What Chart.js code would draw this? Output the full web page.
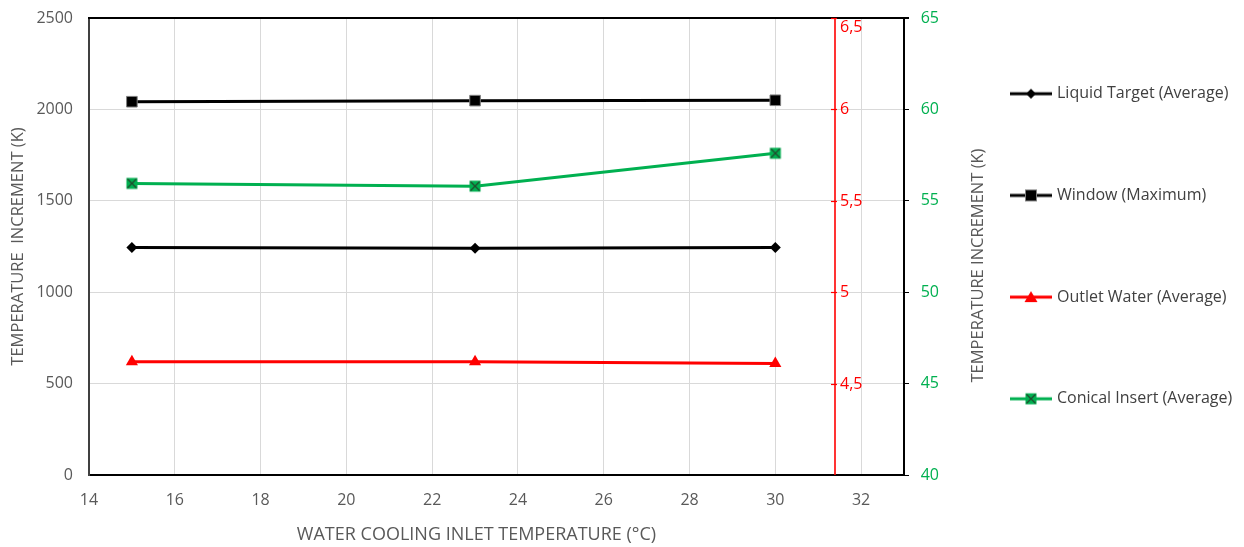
<!DOCTYPE html>
<html>
<head>
<meta charset="utf-8">
<script src="https://cdn.jsdelivr.net/npm/chart.js@4.4.1/dist/chart.umd.min.js"></script>
<style>
  html, body { margin: 0; padding: 0; background: #ffffff; }
  #wrap { width: 1244px; height: 547px; }
</style>
</head>
<body>
<div id="wrap"><canvas id="chart" width="1244" height="547"></canvas></div>
<script>
// Inlet temperature of the cooling water (°C)
const inletTemps = [15, 23, 30];

// Temperature increments (K)
const liquidTarget  = [1245, 1240, 1245];   // left axis
const windowMax     = [2042, 2048, 2050];   // left axis
const outletWater   = [4.62, 4.62, 4.61];   // red inner axis
const conicalInsert = [55.95, 55.8, 57.6];  // green right axis

// Tick labels
const xTicks     = [14, 16, 18, 20, 22, 24, 26, 28, 30, 32];
const leftTicks  = [0, 500, 1000, 1500, 2000, 2500];
const redTicks   = [4.5, 5, 5.5, 6, 6.5];
const greenTicks = [40, 45, 50, 55, 60, 65];

const FONT = "'Open Sans', 'Noto Sans', sans-serif";
const GREY_TEXT = '#595959';
const DARK_TEXT = '#404040';
const RED = '#ff0000';
const GREEN = '#00b050';
const RED_AXIS_AT = 31.40;       // x value where the red axis is drawn
const X_TITLE = 'WATER COOLING INLET TEMPERATURE (°C)';
const RIGHT_TITLE = 'TEMPERATURE INCREMENT (K)';

// ---- marker images -------------------------------------------------------
function drawMarker(c, kind, color, cx, cy) {
  c.save();
  if (kind === 'diamond') {
    c.fillStyle = color;
    c.beginPath();
    c.moveTo(cx, cy - 5); c.lineTo(cx + 5, cy); c.lineTo(cx, cy + 5); c.lineTo(cx - 5, cy);
    c.closePath(); c.fill();
  } else if (kind === 'square') {
    c.fillStyle = '#000';
    c.fillRect(cx - 5, cy - 5, 10, 10);
    c.strokeStyle = '#7f7f7f'; c.lineWidth = 1;
    c.strokeRect(cx - 5.5, cy - 5.5, 11, 11);
  } else if (kind === 'triangle') {
    c.fillStyle = color;
    c.beginPath();
    c.moveTo(cx, cy - 6); c.lineTo(cx + 6.5, cy + 5); c.lineTo(cx - 6.5, cy + 5);
    c.closePath(); c.fill();
  } else if (kind === 'xbox') {
    c.fillStyle = color;
    c.fillRect(cx - 5.5, cy - 5.5, 11, 11);
    c.strokeStyle = '#1f4d2e'; c.lineWidth = 1.4;
    c.beginPath();
    c.moveTo(cx - 4.5, cy - 4.5); c.lineTo(cx + 4.5, cy + 4.5);
    c.moveTo(cx + 4.5, cy - 4.5); c.lineTo(cx - 4.5, cy + 4.5);
    c.stroke();
  }
  c.restore();
}

function markerCanvas(kind, color) {
  const cv = document.createElement('canvas');
  cv.width = 14; cv.height = 14;
  drawMarker(cv.getContext('2d'), kind, color, 7, 7);
  return cv;
}

function legendSample(kind, color) {
  const cv = document.createElement('canvas');
  cv.width = 42; cv.height = 14;
  const c = cv.getContext('2d');
  c.strokeStyle = color; c.lineWidth = 3;
  c.beginPath(); c.moveTo(0, 7); c.lineTo(42, 7); c.stroke();
  drawMarker(c, kind, color, 21, 7);
  return cv;
}

const conicalMarker = markerCanvas('xbox', GREEN);

const series = [
  { label: 'Liquid Target (Average)', values: liquidTarget, axis: 'y',  color: '#000000', kind: 'diamond' },
  { label: 'Window (Maximum)',        values: windowMax,    axis: 'y',  color: '#000000', kind: 'square' },
  { label: 'Outlet Water (Average)',  values: outletWater,  axis: 'yR', color: RED,       kind: 'triangle' },
  { label: 'Conical Insert (Average)',values: conicalInsert,axis: 'yG', color: GREEN,     kind: 'xbox' }
];

const pointStyles = {
  diamond:  { pointStyle: 'rectRot', pointRadius: 5.5, pointBorderWidth: 0 },
  square:   { pointStyle: 'rect', pointRadius: 7.5, pointBorderWidth: 1, pointBorderColor: '#7f7f7f' },
  triangle: { pointStyle: 'triangle', pointRadius: 7, pointBorderWidth: 0 },
  xbox:     { pointStyle: conicalMarker, pointRadius: 6 }
};

const datasets = series.map(s => Object.assign({
  label: s.label,
  data: inletTemps.map((x, i) => ({ x: x, y: s.values[i] })),
  yAxisID: s.axis,
  borderColor: s.color,
  backgroundColor: s.color,
  pointBackgroundColor: s.color,
  pointBorderColor: s.color,
  borderWidth: 3,
  tension: 0,
  fill: false
}, pointStyles[s.kind]));

// ---- extra drawing: top frame line, inner red axis, titles ---------------
const framePlugin = {
  id: 'frameExtras',
  beforeDatasetsDraw(chart) {
    const { ctx, chartArea, scales } = chart;
    ctx.save();
    // top frame line
    ctx.strokeStyle = '#000'; ctx.lineWidth = 2;
    ctx.beginPath();
    ctx.moveTo(chartArea.left - 1, chartArea.top);
    ctx.lineTo(chartArea.right + 5, chartArea.top);
    ctx.stroke();

    // red axis placed inside the plot
    const ax = Math.round(scales.x.getPixelForValue(RED_AXIS_AT));
    ctx.strokeStyle = RED; ctx.lineWidth = 1.6;
    ctx.beginPath();
    ctx.moveTo(ax, chartArea.top);
    ctx.lineTo(ax, chartArea.bottom);
    ctx.stroke();
    ctx.lineWidth = 1.2;
    ctx.fillStyle = RED;
    ctx.font = "16px " + FONT;
    ctx.textBaseline = 'middle';
    ctx.textAlign = 'left';
    redTicks.forEach(v => {
      const y = Math.round(scales.yR.getPixelForValue(v)) + 0.5;
      ctx.beginPath();
      ctx.moveTo(ax - 4, y); ctx.lineTo(ax + 2, y);
      ctx.stroke();
      const txt = String(v).replace('.', ',');
      const ty = Math.max(y, chartArea.top + 9);
      ctx.fillText(txt, ax + 5, ty);
    });
    ctx.restore();
  },
  afterDraw(chart) {
    const { ctx, chartArea } = chart;
    ctx.save();
    ctx.fillStyle = GREY_TEXT;
    ctx.textAlign = 'center';
    ctx.textBaseline = 'middle';
    // x-axis title
    ctx.font = "18px " + FONT;
    ctx.fillText(X_TITLE, (chartArea.left + chartArea.right) / 2 - 20, chartArea.bottom + 60);
    // right-hand axis title, reading upwards
    ctx.font = "16.5px " + FONT;
    ctx.translate(chartArea.right + 74, (chartArea.top + chartArea.bottom) / 2 + 19);
    ctx.rotate(-Math.PI / 2);
    ctx.fillText(RIGHT_TITLE, 0, 0);
    ctx.restore();
  }
};

const setTicks = list => scale => { scale.ticks = list.map(v => ({ value: v })); };
const plainLabel = v => String(v);

new Chart(document.getElementById('chart'), {
  type: 'line',
  data: { datasets: datasets },
  options: {
    responsive: false,
    animation: false,
    events: [],
    layout: { padding: { top: 0, right: 2.7, bottom: 0, left: 0 } },
    scales: {
      x: {
        type: 'linear',
        min: 14, max: 33,
        afterBuildTicks: setTicks(xTicks),
        afterFit: s => { s.height = 72; },
        grid: { color: '#d9d9d9', lineWidth: 1, drawTicks: false },
        border: { color: '#000', width: 2 },
        ticks: { color: GREY_TEXT, font: { family: FONT, size: 16 }, padding: 16, maxRotation: 0, autoSkip: false, callback: plainLabel }
      },
      y: {
        type: 'linear',
        position: 'left',
        min: 0, max: 2500,
        afterBuildTicks: setTicks(leftTicks),
        afterFit: s => { s.width = 89; s.paddingTop = 18; s.paddingBottom = 0; },
        grid: { color: '#d9d9d9', lineWidth: 1, drawTicks: false },
        border: { color: '#404040', width: 2 },
        ticks: { color: GREY_TEXT, font: { family: FONT, size: 16 }, padding: 16, callback: plainLabel },
        title: { display: true, text: 'TEMPERATURE  INCREMENT (K)', color: GREY_TEXT,
                 font: { family: FONT, size: 16.5 }, padding: { top: 8, bottom: 0 } }
      },
      yG: {
        type: 'linear',
        position: 'right',
        min: 40, max: 65,
        afterBuildTicks: setTicks(greenTicks),
        afterFit: s => { s.width = 23.3; s.paddingTop = 18; s.paddingBottom = 0; },
        grid: { drawOnChartArea: false, drawTicks: true, tickLength: 5, color: '#000' },
        border: { color: '#000', width: 2 },
        ticks: { color: GREEN, font: { family: FONT, size: 16 }, mirror: true, crossAlign: 'near', padding: 35, callback: plainLabel }
      },
      yR: {
        type: 'linear',
        display: false,
        min: 4, max: 6.5
      }
    },
    plugins: {
      tooltip: { enabled: false },
      legend: {
        position: 'right',
        align: 'start',
        maxWidth: 314,
        labels: {
          usePointStyle: true,
          pointStyleWidth: 36,
          padding: 85.7,
          color: DARK_TEXT,
          font: { family: FONT, size: 16 },
          generateLabels: chart => series.map((s, i) => ({
            text: s.label,
            datasetIndex: i,
            hidden: false,
            fillStyle: s.color,
            strokeStyle: s.color,
            lineWidth: 0,
            fontColor: DARK_TEXT,
            pointStyle: legendSample(s.kind, s.color)
          }))
        }
      }
    }
  },
  plugins: [framePlugin]
});
</script>
</body>
</html>
